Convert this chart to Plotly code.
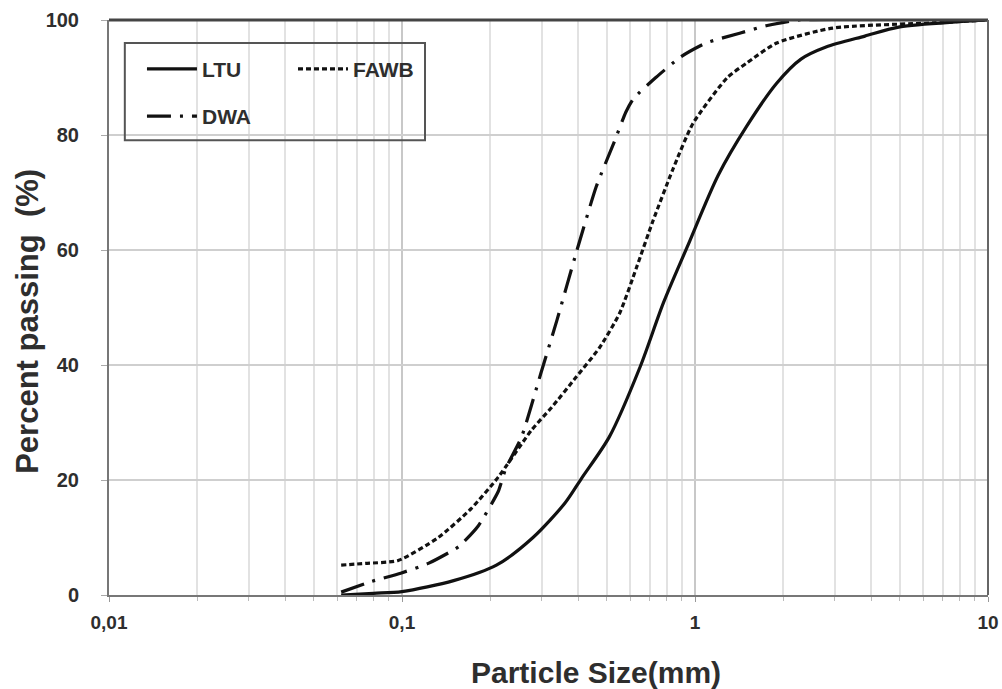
import plotly.graph_objects as go

# ---- data ----
ltu_x = [0.062, 0.08, 0.1, 0.15, 0.21, 0.28, 0.36, 0.41, 0.51, 0.65, 0.78, 0.94, 1.2, 1.5, 1.9, 2.3, 2.8, 3.8, 5.0, 8.0, 10.0]
ltu_y = [0.0, 0.3, 0.6, 2.5, 5.2, 10.0, 16.0, 20.3, 27.5, 39.7, 50.8, 60.5, 73.0, 81.5, 89.0, 93.2, 95.3, 97.2, 98.8, 99.7, 100.0]

fawb_x = [0.062, 0.075, 0.097, 0.133, 0.172, 0.213, 0.277, 0.325, 0.393, 0.472, 0.553, 0.632, 0.718, 0.84, 0.984, 1.29, 1.5, 1.9, 2.95, 6.5, 10.0]
fawb_y = [5.2, 5.5, 6.0, 10.0, 15.0, 20.5, 28.7, 32.7, 37.9, 43.0, 49.0, 57.0, 65.0, 74.0, 82.0, 90.0, 92.5, 96.0, 98.6, 99.5, 100.0]

dwa_x = [0.062, 0.078, 0.099, 0.123, 0.156, 0.182, 0.213, 0.226, 0.256, 0.298, 0.338, 0.393, 0.46, 0.532, 0.581, 0.618, 0.735, 0.895, 1.09, 1.42, 1.75, 2.27, 8.0]
dwa_y = [0.5, 2.3, 3.8, 5.5, 8.4, 12.0, 18.0, 22.0, 27.5, 38.6, 47.8, 59.5, 71.0, 79.0, 84.0, 86.4, 90.0, 93.6, 96.0, 97.7, 99.0, 100.0, 100.0]

x_tickvals = [0.01, 0.1, 1, 10]
x_ticktext = ["0,01", "0,1", "1", "10"]
y_tickvals = [0, 20, 40, 60, 80, 100]

x_title = "Particle Size(mm)"
y_title = "Percent passing\u00a0\u00a0(%)"

minor_vals = [m * 10 ** e for e in (-2, -1, 0) for m in range(2, 10)]

FONT = "Liberation Sans, Arial, sans-serif"
TXT = "#2e2e2e"

fig = go.Figure()
fig.add_trace(go.Scatter(x=ltu_x, y=ltu_y, name="LTU", mode="lines",
                         line=dict(color="#111111", width=3.2, shape="spline", smoothing=0.8),
                         legend="legend", legendgroup="a"))
fig.add_trace(go.Scatter(x=fawb_x, y=fawb_y, name="FAWB", mode="lines",
                         line=dict(color="#111111", width=3.2, dash="5px,3px", shape="spline", smoothing=0.6),
                         legend="legend2"))
fig.add_trace(go.Scatter(x=dwa_x, y=dwa_y, name="DWA", mode="lines",
                         line=dict(color="#111111", width=3.2, dash="24px,9px,3px,9px", shape="spline", smoothing=0.5),
                         legend="legend", legendgroup="b"))

fig.update_layout(
    width=1002, height=689,
    margin=dict(l=109, r=14, t=20, b=94),
    paper_bgcolor="white", plot_bgcolor="white",
    font=dict(family=FONT, color=TXT, size=14),
    showlegend=True,
    legend=dict(x=0.0375, y=0.95, xanchor="left", yanchor="top",
                bgcolor="rgba(0,0,0,0)", borderwidth=0, tracegroupgap=17, itemwidth=50,
                font=dict(family=FONT, size=21, color=TXT, weight="bold")),
    legend2=dict(x=0.2093, y=0.95, xanchor="left", yanchor="top",
                 bgcolor="rgba(0,0,0,0)", borderwidth=0, itemwidth=50,
                 font=dict(family=FONT, size=21, color=TXT, weight="bold")),
    shapes=[dict(type="rect", xref="paper", yref="paper",
                 x0=0.018, x1=0.3595, y0=0.791, y1=0.96,
                 line=dict(color="#555555", width=2), fillcolor="rgba(0,0,0,0)")],
    annotations=[
        dict(text=x_title, xref="paper", yref="paper", x=0.554, y=-0.134,
             xanchor="center", yanchor="middle", showarrow=False,
             font=dict(family=FONT, size=30, color=TXT, weight="bold")),
        dict(text=y_title, xref="paper", yref="paper", x=-0.0935, y=0.4765,
             xanchor="center", yanchor="middle", showarrow=False, textangle=-90,
             font=dict(family=FONT, size=31, color=TXT, weight="bold")),
    ],
)

fig.update_xaxes(
    type="log", range=[-2, 1], automargin=False,
    tickvals=x_tickvals, ticktext=x_ticktext,
    showgrid=True, gridcolor="#c8c8c8", gridwidth=2,
    minor=dict(tickvals=minor_vals, showgrid=True, gridcolor="#e2e2e2", gridwidth=2,
               ticks="outside", ticklen=4, tickcolor="#bbbbbb"),
    ticks="outside", ticklen=5, tickcolor="#999999",
    showline=True, linecolor="#777777", linewidth=2, mirror=False,
    tickfont=dict(family=FONT, size=19, color=TXT, weight="bold"),
    ticklabelstandoff=4,
    zeroline=False,
)
fig.update_yaxes(
    range=[0, 100], tickvals=y_tickvals, automargin=False,
    showgrid=True, gridcolor="#cfcfcf", gridwidth=2,
    ticks="outside", ticklen=6, tickcolor="#aaaaaa",
    showline=True, linecolor="#777777", linewidth=2, mirror=False,
    tickfont=dict(family=FONT, size=20, color=TXT, weight="bold"),
    ticklabelstandoff=18,
    zeroline=False,
)

# top and right borders of the plot area
fig.add_shape(type="line", xref="paper", yref="paper", x0=0, x1=1, y0=1, y1=1,
              line=dict(color="#444444", width=3))
fig.add_shape(type="line", xref="paper", yref="paper", x0=1, x1=1, y0=0, y1=1,
              line=dict(color="#666666", width=2))

fig.write_html("out.html")
